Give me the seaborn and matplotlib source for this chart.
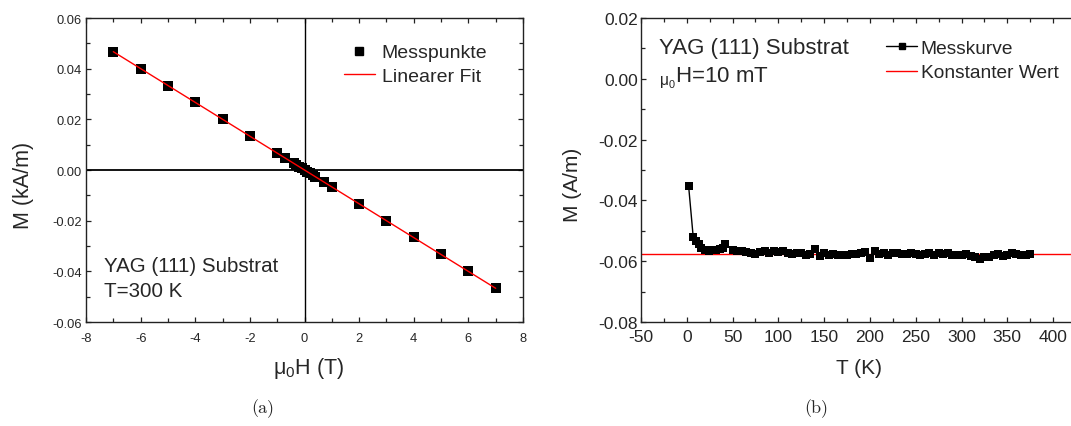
import numpy as np
import pandas as pd
import matplotlib
matplotlib.use("Agg")
import matplotlib.pyplot as plt
import seaborn as sns
from matplotlib.ticker import MultipleLocator, FormatStrFormatter
from matplotlib.lines import Line2D

# ---------------- data: panel (a) ----------------
field_T = [-7, -6, -5, -4, -3, -2, -1, -0.7, -0.4, -0.3, -0.2, -0.1, 0.0,
           0.1, 0.2, 0.3, 0.4, 0.7, 1, 2, 3, 4, 5, 6, 7]
moment_kAm = [0.0467, 0.0400, 0.0333, 0.0267, 0.0200, 0.0133, 0.0067, 0.0046,
              0.0027, 0.0020, 0.0013, 0.0007, 0.0000, -0.0007, -0.0013, -0.0020,
              -0.0027, -0.0046, -0.0066, -0.0133, -0.0200, -0.0265, -0.0333,
              -0.0400, -0.0467]
fit_x = [-7, 7]
fit_y = [0.0467, -0.0467]

# ---------------- data: panel (b) ----------------
temp_K = [2, 7, 10, 13, 16, 20, 24, 28, 32, 36, 40, 42, 50, 55, 60, 65, 70, 75,
          80, 85, 90, 95, 100, 105, 110, 115, 120, 125, 130, 135, 140, 145, 150,
          155, 160, 165, 170, 175, 180, 185, 190, 195, 200, 205, 210, 215, 220,
          225, 230, 235, 240, 245, 250, 255, 260, 265, 270, 275, 280, 285, 290,
          295, 300, 305, 310, 315, 320, 325, 330, 335, 340, 345, 350, 355, 360,
          365, 370, 375]
moment_Am = [-0.0353, -0.0520, -0.0535, -0.0545, -0.0555, -0.0563, -0.0565,
             -0.0563, -0.0563, -0.0560, -0.0555, -0.0542, -0.0563, -0.0568,
             -0.0565, -0.0570, -0.0572, -0.0575, -0.0570, -0.0568, -0.0572,
             -0.0565, -0.0570, -0.0566, -0.0572, -0.0575, -0.0573, -0.0572,
             -0.0578, -0.0576, -0.0560, -0.0582, -0.0574, -0.0578, -0.0576,
             -0.0580, -0.0579, -0.0578, -0.0577, -0.0575, -0.0572, -0.0570,
             -0.0588, -0.0568, -0.0575, -0.0574, -0.0578, -0.0573, -0.0574,
             -0.0576, -0.0575, -0.0574, -0.0576, -0.0578, -0.0575, -0.0573,
             -0.0578, -0.0574, -0.0576, -0.0574, -0.0579, -0.0580, -0.0578,
             -0.0576, -0.0582, -0.0585, -0.0592, -0.0586, -0.0587, -0.0580,
             -0.0576, -0.0583, -0.0578, -0.0572, -0.0577, -0.0580, -0.0578,
             -0.0576]
const_value = -0.0577

df_a = pd.DataFrame({"H": field_T, "M": moment_kAm})
df_fit = pd.DataFrame({"H": fit_x, "M": fit_y})
df_b = pd.DataFrame({"T": temp_K, "M": moment_Am})

# ---------------- style ----------------
sns.set_style("ticks")
plt.rcParams["font.family"] = ["Liberation Sans", "DejaVu Sans"]
plt.rcParams["mathtext.fontset"] = "custom"
plt.rcParams["mathtext.rm"] = "Liberation Sans"
plt.rcParams["mathtext.it"] = "Liberation Sans:italic"
plt.rcParams["axes.unicode_minus"] = False

fig = plt.figure(figsize=(10.71, 4.27), dpi=100)
ax_a = fig.add_axes([86 / 1071, 104 / 427, 437 / 1071, 304 / 427])
ax_b = fig.add_axes([641 / 1071, 104 / 427, 435 / 1071, 304 / 427])


def style_axes(ax, tick_fs, xpad, ypad):
    for s in ax.spines.values():
        s.set_linewidth(1.0)
        s.set_color("#222222")
    ax.tick_params(which="both", direction="in", top=True, right=True,
                   width=0.9, color="#222222", labelsize=tick_fs)
    ax.tick_params(axis="x", which="both", pad=xpad)
    ax.tick_params(axis="y", which="both", pad=ypad)
    ax.tick_params(which="major", length=3.5)
    ax.tick_params(which="minor", length=3.0)


# ---------------- panel (a) ----------------
ax_a.axhline(0, color="black", lw=1.3, zorder=1)
ax_a.axvline(0, color="black", lw=1.0, zorder=1)
sns.lineplot(data=df_fit, x="H", y="M", ax=ax_a, color="red", lw=1.0, zorder=3)
sns.scatterplot(data=df_a, x="H", y="M", ax=ax_a, marker="s", s=42,
                color="black", edgecolor="black", linewidth=0, zorder=2)
ax_a.set_xlim(-8, 8)
ax_a.set_ylim(-0.06, 0.06)
ax_a.xaxis.set_major_locator(MultipleLocator(2))
ax_a.xaxis.set_minor_locator(MultipleLocator(1))
ax_a.yaxis.set_major_locator(MultipleLocator(0.02))
ax_a.yaxis.set_minor_locator(MultipleLocator(0.01))
ax_a.yaxis.set_major_formatter(FormatStrFormatter("%.2f"))
style_axes(ax_a, 9.3, 7, 3)
ax_a.set_xlabel(r"$\mathregular{\mu_0}$H (T)", fontsize=15.5, labelpad=8, x=0.51)
ax_a.set_ylabel("M (kA/m)", fontsize=15.5, labelpad=13, y=0.454)
ax_a.text(0.042, 0.169, "YAG (111) Substrat", transform=ax_a.transAxes,
          fontsize=14.8, va="baseline", ha="left")
ax_a.text(0.042, 0.086, "T=300 K", transform=ax_a.transAxes,
          fontsize=14.8, va="baseline", ha="left")
h_a = [Line2D([], [], ls="none", marker="s", ms=6, color="black"),
       Line2D([], [], color="red", lw=1.0)]
ax_a.legend(h_a, ["Messpunkte", "Linearer Fit"], loc="upper left",
            bbox_to_anchor=(0.59, 0.915), frameon=False, fontsize=14,
            handlelength=1.6, handletextpad=0.35, labelspacing=0.32,
            borderpad=0, borderaxespad=0)

# ---------------- panel (b) ----------------
ax_b.axhline(const_value, color="red", lw=1.0, zorder=1)
sns.lineplot(data=df_b, x="T", y="M", ax=ax_b, color="black", lw=1.0,
             marker="s", markersize=5.4, markeredgewidth=0, zorder=2)
ax_b.set_xlim(-50, 425)
ax_b.set_ylim(-0.08, 0.02)
ax_b.xaxis.set_major_locator(MultipleLocator(50))
ax_b.xaxis.set_minor_locator(MultipleLocator(25))
ax_b.yaxis.set_major_locator(MultipleLocator(0.02))
ax_b.yaxis.set_minor_locator(MultipleLocator(0.01))
ax_b.yaxis.set_major_formatter(FormatStrFormatter("%.2f"))
style_axes(ax_b, 12.5, 5, 2)
ax_b.set_xlabel("T (K)", fontsize=15, labelpad=10)
ax_b.set_ylabel("M (A/m)", fontsize=15, labelpad=12, y=0.454)
ax_b.text(0.041, 0.886, "YAG (111) Substrat", transform=ax_b.transAxes,
          fontsize=16, va="baseline", ha="left")
ax_b.text(0.041, 0.793, r"$\mathregular{{}_{\mu_0}H}$=10 mT",
          transform=ax_b.transAxes, fontsize=16, va="baseline", ha="left")
h_b = [Line2D([], [], color="black", lw=1.0, marker="s", ms=4.6),
       Line2D([], [], color="red", lw=1.0)]
ax_b.legend(h_b, ["Messkurve", "Konstanter Wert"], loc="upper left",
            bbox_to_anchor=(0.564, 0.93), frameon=False, fontsize=13.8,
            handlelength=1.6, handletextpad=0.2, labelspacing=0.38,
            borderpad=0, borderaxespad=0)

# ---------------- captions ----------------
fig.text(0.245, 0.044, "(a)", family="cmr10", fontsize=13, ha="center", va="center")
fig.text(0.762, 0.044, "(b)", family="cmr10", fontsize=13, ha="center", va="center")

fig.savefig("out.png", dpi=100)
